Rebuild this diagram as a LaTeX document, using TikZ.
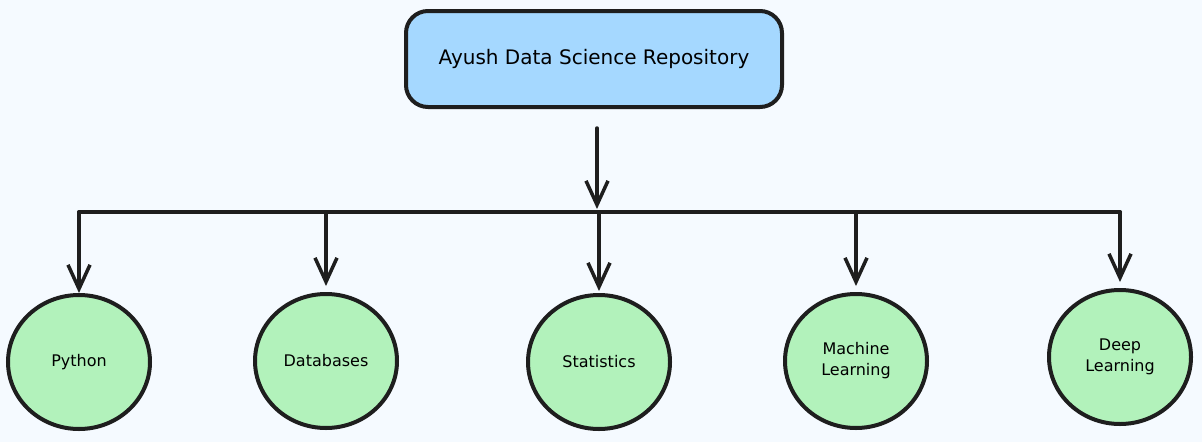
\documentclass[tikz,border=0pt]{standalone}
\usepackage{fontspec}
\setmainfont{DejaVu Sans}
\usetikzlibrary{arrows.meta,shapes.geometric}

\definecolor{inkgray}{HTML}{1E1E1E}
\definecolor{repoblue}{HTML}{A5D8FF}
\definecolor{topicgreen}{HTML}{B2F2BB}
\definecolor{paper}{HTML}{F5FAFF}

\tikzset{
  ink/.style={draw=inkgray, line width=4pt},
  repobox/.style={ink, fill=repoblue, rounded corners=22pt,
    minimum width=376pt, minimum height=96pt,
    font=\fontsize{20}{24}\selectfont},
  topic/.style={ink, fill=topicgreen, ellipse, inner sep=0pt,
    minimum width=142pt, minimum height=134pt, align=center,
    font=\fontsize{16}{21}\selectfont},
  link/.style={draw=inkgray, line width=3.5pt, line cap=round,
    -{Straight Barb[length=24pt,width=22pt]}}
}

\begin{document}
\begin{tikzpicture}[x=1pt, y=-1pt]

    % fondo
    \fill[paper] (0,0) rectangle (1202,442);
    \useasboundingbox (0,0) rectangle (1202,442);

    % caja principal
    \node[repobox] (repo) at (594,59) {Ayush Data Science Repository};

    % temas
    \node[topic] (python) at (79,362) {Python};
    \node[topic] (db) at (326,361) {Databases};
    \node[topic] (stats) at (599,362) {Statistics};
    \node[topic] (ml) at (856,361) {Machine\\Learning};
    \node[topic] (dl) at (1120,357) {Deep\\Learning};

    % barra horizontal
    \coordinate (bus-l) at (79,212);
    \coordinate (bus-m) at (597,212);
    \coordinate (bus-r) at (1120,212);
    \draw[ink, line cap=round] (bus-l) -- (bus-r);

    % flecha principal
    \draw[link, shorten <=19pt, shorten >=3pt] (repo.south -| bus-m) -- (bus-m);

    % flechas a cada tema
    \draw[link] (bus-l) -- (python.north);
    \draw[link, shorten >=6pt] (db |- bus-l) -- (db.north);
    \draw[link, shorten >=2pt] (stats |- bus-l) -- (stats.north);
    \draw[link, shorten >=6pt] (ml |- bus-l) -- (ml.north);
    \draw[link, shorten >=6pt] (bus-r) -- (dl.north);

\end{tikzpicture}
\end{document}
